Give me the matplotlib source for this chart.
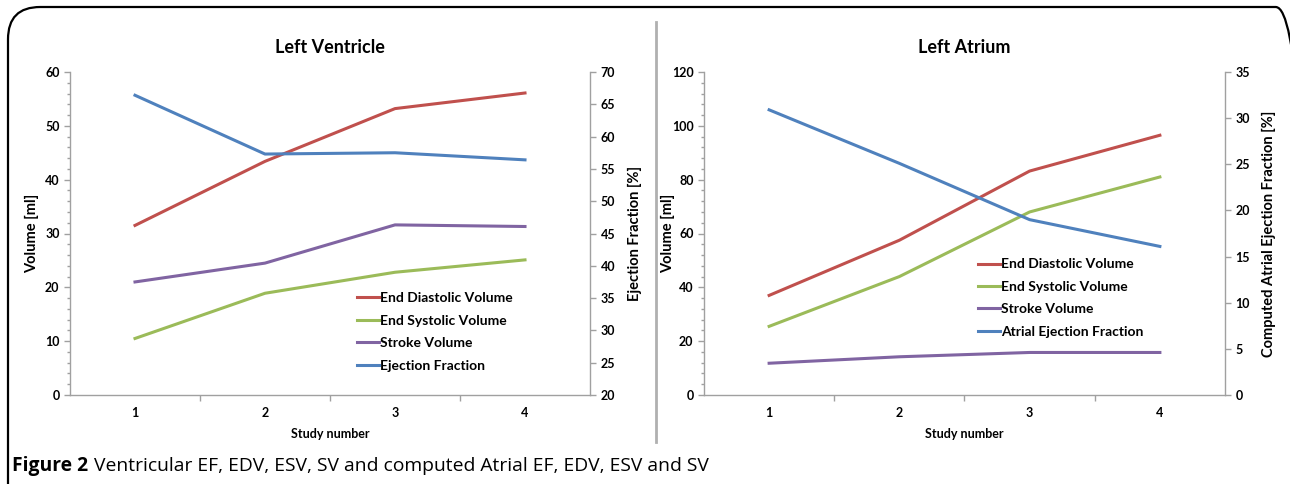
import numpy as np
import matplotlib.pyplot as plt
from matplotlib.patches import FancyBboxPatch
from matplotlib.lines import Line2D
from matplotlib.ticker import MultipleLocator

plt.rcParams['font.family'] = ['Lato', 'DejaVu Sans']

study = [1, 2, 3, 4]

# left ventricle
lv_edv = [31.5, 43.4, 53.2, 56.1]
lv_esv = [10.5, 18.9, 22.8, 25.1]
lv_sv = [21.0, 24.5, 31.6, 31.3]
lv_ef = [66.4, 57.3, 57.5, 56.4]

# left atrium
la_edv = [37.0, 57.5, 83.2, 96.5]
la_esv = [25.5, 44.0, 68.0, 81.0]
la_sv = [11.8, 14.2, 15.8, 15.8]
la_ef = [30.9, 25.1, 19.0, 16.1]

labels_lv = ['End Diastolic Volume', 'End Systolic Volume', 'Stroke Volume', 'Ejection Fraction']
labels_la = ['End Diastolic Volume', 'End Systolic Volume', 'Stroke Volume', 'Atrial Ejection Fraction']

c_red = '#c0504d'
c_green = '#9bbb59'
c_purple = '#8064a2'
c_blue = '#4f81bd'
c_axis = '#a0a0a0'

fig = plt.figure(figsize=(12.9, 4.84), dpi=100)

# outer frame and divider
frame = FancyBboxPatch((8 / 1290, -0.1), 1300 / 1290, 1.1 - 7 / 484,
                       boxstyle='round,pad=0,rounding_size=0.025',
                       transform=fig.transFigure, fill=False, ec='black', lw=1.6,
                       mutation_aspect=1290 / 484)
fig.patches.append(frame)
fig.add_artist(Line2D([656 / 1290, 656 / 1290], [1 - 22 / 484, 1 - 442 / 484],
                      transform=fig.transFigure, color='#b0b0b0', lw=2))


def panel(rect, title, edv, esv, sv, ef, ymax, ystep, rmin, rmax, rstep, rlabel,
          labels, leg_xy, lx, rx):
    ax = fig.add_axes(rect)
    ax2 = ax.twinx()
    ax.plot(study, edv, color=c_red, lw=2.2)
    ax.plot(study, esv, color=c_green, lw=2.2)
    ax.plot(study, sv, color=c_purple, lw=2.2)
    ax2.plot(study, ef, color=c_blue, lw=2.2)

    ax.set_xlim(0.5, 4.5)
    ax.set_ylim(0, ymax)
    ax2.set_ylim(rmin, rmax)
    ax.yaxis.set_major_locator(MultipleLocator(ystep))
    ax.yaxis.set_minor_locator(MultipleLocator(ystep / 5))
    ax2.yaxis.set_major_locator(MultipleLocator(rstep))
    ax.set_xticks([1.5, 2.5, 3.5], minor=False)
    ax.set_xticklabels([])
    for x in study:
        ax.text(x, -0.057, str(x), transform=ax.get_xaxis_transform(),
                ha='center', va='center', fontsize=9, fontweight='bold')

    for a in (ax, ax2):
        for s in a.spines.values():
            s.set_visible(False)
    ax.spines['left'].set_visible(True)
    ax.spines['bottom'].set_visible(True)
    ax2.spines['right'].set_visible(True)
    for s in (ax.spines['left'], ax.spines['bottom'], ax2.spines['right']):
        s.set_color(c_axis)
        s.set_linewidth(1.0)
    ax.tick_params(axis='both', which='both', color=c_axis, labelsize=9, length=4, width=1)
    ax.tick_params(axis='y', which='minor', length=2)
    ax2.tick_params(axis='y', color=c_axis, labelsize=9, length=4, width=1)
    for t in ax.get_yticklabels() + ax2.get_yticklabels():
        t.set_fontweight('bold')

    ax.set_title(title, fontsize=13, fontweight='bold', pad=14)
    ax.set_ylabel('Volume [ml]', fontsize=10.5, fontweight='bold')
    ax.yaxis.set_label_coords(lx, 0.5)
    ax2.set_ylabel(rlabel, fontsize=10.5, fontweight='bold')
    ax2.yaxis.set_label_coords(rx, 0.5)
    ax.set_xlabel('Study number', fontsize=9, fontweight='bold', labelpad=16)

    handles = [Line2D([], [], color=c, lw=2.2) for c in (c_red, c_green, c_purple, c_blue)]
    ax.legend(handles, labels, loc='upper left', bbox_to_anchor=leg_xy,
              frameon=False, handlelength=1.6, handletextpad=0.05,
              labelspacing=0.75, borderaxespad=0, borderpad=0,
              prop={'weight': 'bold', 'size': 10})
    return ax


panel([70 / 1290, 1 - 395 / 484, 520 / 1290, 323 / 484], 'Left Ventricle',
      lv_edv, lv_esv, lv_sv, lv_ef, 60, 10, 20, 70, 5, 'Ejection Fraction [%]',
      labels_lv, (0.552, 0.318), -0.06, 1.073)
panel([704 / 1290, 1 - 395 / 484, 521 / 1290, 323 / 484], 'Left Atrium',
      la_edv, la_esv, la_sv, la_ef, 120, 20, 0, 35, 5,
      'Computed Atrial Ejection Fraction [%]', labels_la, (0.526, 0.423), -0.056, 1.071)

fig.text(12 / 1290, 1 - 466 / 484, 'Figure 2', fontsize=13.9, fontweight='bold',
         va='center', ha='left', family=['Open Sans', 'DejaVu Sans'])
fig.text(94 / 1290, 1 - 466 / 484, 'Ventricular EF, EDV, ESV, SV and computed Atrial EF, EDV, ESV and SV',
         fontsize=13.9, va='center', ha='left', family=['Open Sans', 'DejaVu Sans'])

fig.savefig('out.png', dpi=100)
